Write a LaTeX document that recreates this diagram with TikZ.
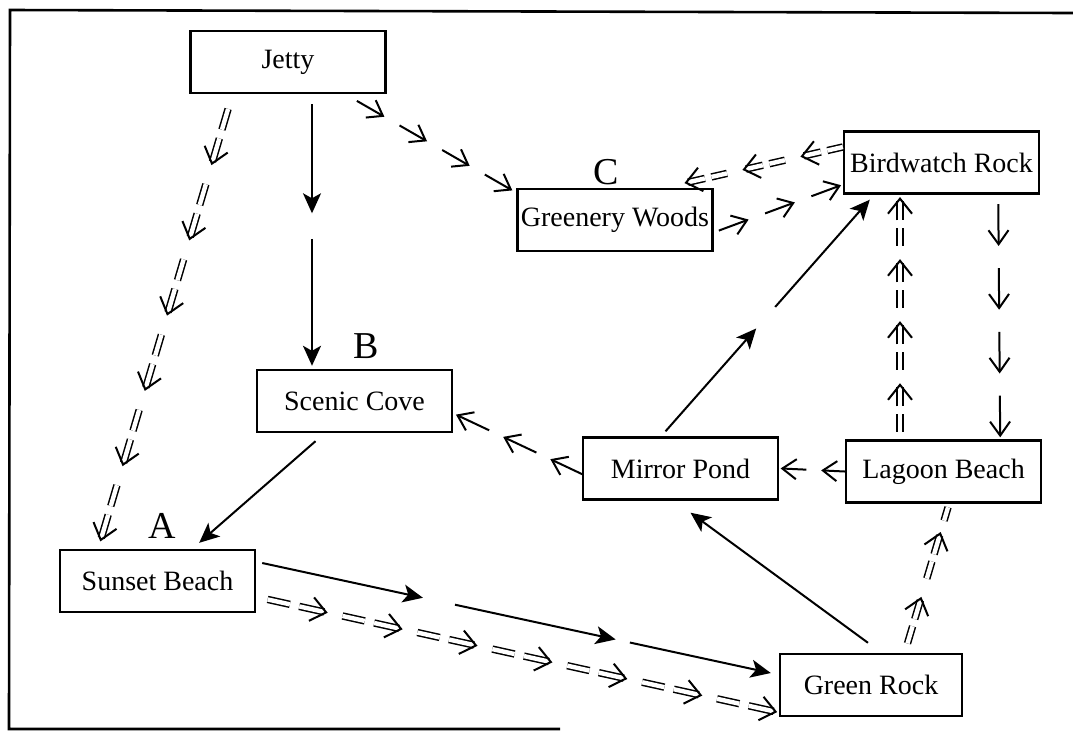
\documentclass[tikz,border=0pt]{standalone}
\usepackage{fontspec}
\setmainfont{Liberation Serif}
\usetikzlibrary{calc, arrows.meta, decorations.markings}
% one dashed step with an open head, tip at the origin
\newcommand\sglunit[1]{\draw[line width=1pt] (-#1,0) -- (0,0); \draw[line width=1pt] (-14,10) -- (0,0) -- (-14,-10);}
% two double dashes, the second one ending in an open head
\newcommand\dblunit[1]{%
  \draw[double, double distance=2.2pt, line width=.75pt] (-#1,0) -- (-0.62*#1,0);
  \draw[double, double distance=2.2pt, line width=.75pt] (-0.46*#1,0) -- (-2,0);
  \draw[line width=1pt] (-15,12) -- (0,0) -- (-15,-12);}
\newcommand\dbldash[1]{\draw[double, double distance=2.2pt, line width=.75pt] (-#1,0) -- (0,0);}

\begin{document}
\begin{tikzpicture}[
    x=0.5pt, y=-0.5pt,
    place/.style={draw, line width=1.2pt, minimum width=97.5pt, minimum height=31pt, inner sep=1pt, font=\fontsize{14}{15}\selectfont},
    tag/.style={inner sep=0pt, font=\fontsize{19}{20}\selectfont},
    solidarrow/.style={line width=1pt, -{Stealth[length=10pt, width=9pt, inset=2.5pt]}},
    hops/.style n args={3}{postaction={decorate}, decoration={markings, mark=between positions #1 and 0.999 step #2 with {#3}}},
  ]
  \useasboundingbox (0,0) rectangle (1073,730);
  % frame
  \draw[line width=1.3pt] (1073,13) -- (10,10) -- (9,729) -- (560,729);
  % places
  \node[place] (jetty)     at (288,62)      {Jetty};
  \node[place] (greenery)  at (615,220)     {Greenery Woods};
  \node[place] (birdwatch) at (941.5,162.5) {Birdwatch Rock};
  \node[place] (scenic)    at (354.5,401)   {Scenic Cove};
  \node[place] (mirror)    at (680.5,468.5) {Mirror Pond};
  \node[place] (lagoon)    at (943.5,471.5) {Lagoon Beach};
  \node[place] (sunset)    at (157.5,581)   {Sunset Beach};
  \node[place, minimum width=91pt] (greenrock) at (871,685) {Green Rock};
  % letters
  \node[tag] (tagA) at (162,526) {A};
  \node[tag] (tagB) at (366,346) {B};
  \node[tag] (tagC) at (606,172) {C};
  % solid routes
  \coordinate (js) at ($(jetty.south)+(24,10)$);
  \coordinate (sn) at ($(scenic.north)+(-42.5,-3)$);
  \draw[solidarrow] (js) -- ($(js)!0.417!(sn)$);
  \draw[solidarrow] ($(js)!0.515!(sn)$) -- (sn);
  \draw[solidarrow] ($(scenic.south)+(-39,8)$) -- ($(sunset.north east)+(-57,-6)$);
  \coordinate (ss) at ($(sunset.east)+(6,-18)$);
  \coordinate (gw) at ($(greenrock.west)+(-8,-12)$);
  \draw[solidarrow] (ss) -- ($(ss)!0.316!(gw)$);
  \draw[solidarrow] ($(ss)!0.379!(gw)$) -- ($(ss)!0.695!(gw)$);
  \draw[solidarrow] ($(ss)!0.723!(gw)$) -- (gw);
  \coordinate (mn) at ($(mirror.north)+(-15,-5)$);
  \coordinate (bs) at ($(birdwatch.south west)+(27,5)$);
  \draw[solidarrow] (mn) -- ($(mn)!0.444!(bs)$);
  \draw[solidarrow] ($(mn)!0.537!(bs)$) -- (bs);
  \draw[solidarrow] ($(greenrock.north)+(-3,-10)$) -- ($(mirror.south)+(10,12)$);
  % double dashed routes
  \path[hops={0.126}{0.1744}{\dblunit{57}}] ($(jetty.south)+(-60,15)$) -- ($(sunset.north)+(-57,-8)$);
  \path[hops={0.126}{0.1453}{\dblunit{60}}] ($(sunset.east)+(5,17)$) -- ($(greenrock.west)+(-2,27)$);
  \path[hops={0.219}{0.259}{\dblunit{47}}] ($(lagoon.north)+(-43.5,-2)$) -- ($(birdwatch.south)+(-41.5,3)$);
  \path[hops={0.366}{0.444}{\dblunit{47}}, decoration={mark=at position 0.99 with {\dbldash{14}}}] ($(greenrock.north)+(34,-1)$) -- ($(lagoon.south)+(5,2)$);
  \path[hops={0.26}{0.369}{\dblunit{42}}] ($(birdwatch.west)+(0,-15.5)$) -- ($(greenery.north east)+(-28,-5)$);
  % single dashed routes
  \path[hops={0.175}{0.2743}{\sglunit{30}}] ($(jetty.south east)+(-31,6)$) -- ($(greenery.north west)+(-5,2)$);
  \path[hops={0.24}{0.379}{\sglunit{30}}] ($(greenery.east)+(4,11)$) -- ($(birdwatch.south west)+(-3,-9)$);
  \path[hops={0.24}{0.379}{\sglunit{35}}] ($(mirror.west)+(0,5.5)$) -- ($(scenic.south east)+(4,-18)$);
  \path[hops={0.35}{0.648}{\sglunit{24}}] (lagoon.west) -- ($(mirror.east)+(3,0)$);
  \path[hops={0.205}{0.264}{\sglunit{40}}] ($(birdwatch.south east)+(-42,0)$) -- ($(lagoon.north east)+(-42,-3)$);
\end{tikzpicture}
\end{document}
